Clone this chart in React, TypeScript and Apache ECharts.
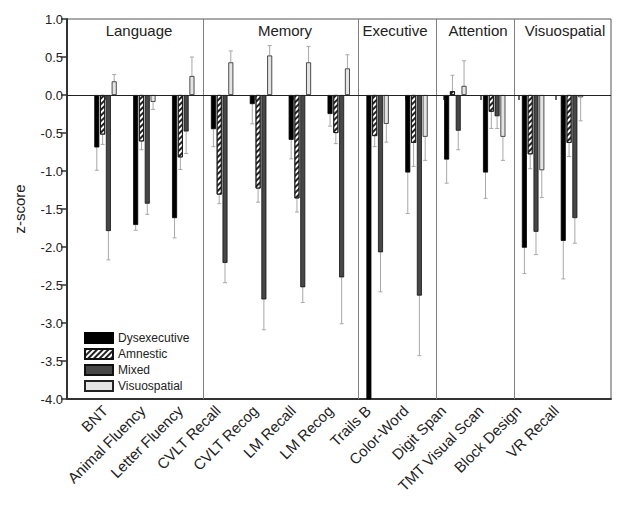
import React, { useEffect, useRef } from "react";
import * as echarts from "echarts";

const categories = [
  "BNT", "Animal Fluency", "Letter Fluency", "CVLT Recall", "CVLT Recog", "LM Recall",
  "LM Recog", "Trails B", "Color-Word", "Digit Span", "TMT Visual Scan", "Block Design", "VR Recall",
];
const domains = ["Language", "Memory", "Executive", "Attention", "Visuospatial"];
const domainStartIndex = [3, 7, 9, 11];

const dysexecutive = [-0.69, -1.71, -1.62, -0.45, -0.12, -0.59, -0.25, -4.4, -1.02, -0.85, -1.02, -2.01, -1.92];
const dysexecutiveSE = [0.30, 0.07, 0.26, 0.23, 0.26, 0.25, 0.16, 0, 0.54, 0.31, 0.34, 0.34, 0.50];
const amnestic = [-0.52, -0.61, -0.82, -1.31, -1.23, -1.36, -0.50, -0.54, -0.63, 0.05, -0.22, -0.78, -0.63];
const amnesticSE = [0.13, 0.11, 0.16, 0.12, 0.18, 0.18, 0.14, 0.14, 0.31, 0.21, 0.22, 0.19, 0.18];
const mixed = [-1.79, -1.43, -0.48, -2.21, -2.69, -2.53, -2.40, -2.07, -2.64, -0.47, -0.28, -1.80, -1.62];
const mixedSE = [0.38, 0.14, 0.29, 0.26, 0.40, 0.20, 0.61, 0.52, 0.79, 0.25, 0.16, 0.30, 0.33];
const visuospatial = [0.18, -0.09, 0.25, 0.43, 0.52, 0.43, 0.35, -0.38, -0.55, 0.12, -0.55, -0.99, -0.03];
const visuospatialSE = [0.09, 0.10, 0.25, 0.15, 0.13, 0.21, 0.18, 0.24, 0.31, 0.33, 0.31, 0.36, 0.31];

const yMin = -4;
const yMax = 1;
const yInterval = 0.5;

const FONT = "Liberation Sans, Arial, sans-serif";

const groups = [
  { name: "Dysexecutive", values: dysexecutive, se: dysexecutiveSE },
  { name: "Amnestic", values: amnestic, se: amnesticSE },
  { name: "Mixed", values: mixed, se: mixedSE },
  { name: "Visuospatial", values: visuospatial, se: visuospatialSE },
];

const BAR_W = 5;
const BAR_GAP = 0.8;

function barStyle(idx: number): any {
  if (idx === 0) return { color: "#000000", borderColor: "#000000", borderWidth: 0.8 };
  if (idx === 1)
    return {
      color: "#ffffff",
      borderColor: "#111111",
      borderWidth: 0.8,
      decal: {
        symbol: "rect",
        color: "#222222",
        backgroundColor: "#ffffff",
        dashArrayX: [1, 0],
        dashArrayY: [1.5, 2],
        rotation: -Math.PI / 4,
        symbolSize: 1,
      },
    };
  if (idx === 2) return { color: "#474747", borderColor: "#111111", borderWidth: 0.8 };
  return { color: "#e4e4e4", borderColor: "#222222", borderWidth: 0.8 };
}

export default function App() {
  const ref = useRef<HTMLDivElement>(null);
  useEffect(() => {
    document.body.style.margin = "0";
    if (!ref.current) return;
    const chart = echarts.init(ref.current, null, { renderer: "svg" });

    const total = groups.length * BAR_W + (groups.length - 1) * BAR_GAP;
    const barSeries = groups.map((g, k) => ({
      type: "bar",
      name: g.name,
      xAxisIndex: 1,
      yAxisIndex: 1,
      data: g.values,
      barWidth: BAR_W,
      barGap: `${(BAR_GAP / BAR_W) * 100}%`,
      itemStyle: barStyle(k),
      clip: true,
      z: 3,
    }));

    const errSeries = groups.map((g, k) => {
      const offset = -total / 2 + BAR_W / 2 + k * (BAR_W + BAR_GAP);
      return {
        type: "custom",
        xAxisIndex: 1,
        yAxisIndex: 1,
        silent: true,
        z: 2,
        data: g.values.map((v, i) => [i, v, g.se[i]]),
        renderItem: (params: any, api: any) => {
          const i = api.value(0);
          const v = api.value(1);
          const s = api.value(2);
          if (!s || isNaN(s)) return null;
          const end = v >= 0 ? v + s : v - s;
          const p0 = api.coord([i, v]);
          const p1 = api.coord([i, end]);
          const x = p0[0] + offset;
          const st = { stroke: "#a8a8a8", lineWidth: 1 };
          return {
            type: "group",
            children: [
              { type: "line", shape: { x1: x, y1: p0[1], x2: x, y2: p1[1] }, style: st },
              { type: "line", shape: { x1: x - 2, y1: p1[1], x2: x + 2, y2: p1[1] }, style: st },
            ],
          };
        },
      };
    });

    const dividerSeries = {
      type: "custom",
      xAxisIndex: 1,
      yAxisIndex: 1,
      silent: true,
      z: 1,
      data: domainStartIndex.map((i) => [i, 0]),
      renderItem: (params: any, api: any) => {
        const i = api.value(0);
        const c = api.coord([i, 0]);
        const band = api.size([1, 0])[0];
        const x = Math.round(c[0] - band / 2) + 0.5;
        const cs = params.coordSys;
        return {
          type: "line",
          shape: { x1: x, y1: cs.y, x2: x, y2: cs.y + cs.height },
          style: { stroke: "#808080", lineWidth: 1 },
        };
      },
    };

    const titleX = [139, 285, 395, 478, 565];

    const option: any = {
      animation: false,
      backgroundColor: "#ffffff",
      textStyle: { fontFamily: FONT },
      grid: [
        { left: 67, right: 13, top: 19, bottom: 108, show: true, borderColor: "#555555", borderWidth: 1, backgroundColor: "transparent" },
        { left: 86.06, right: 32.6, top: 19, bottom: 108 },
        { left: 86.2, right: 49.2, top: 19, bottom: 108 },
      ],
      legend: {
        data: groups.map((g) => g.name),
        orient: "vertical",
        left: 84,
        top: 332,
        padding: 0,
        itemWidth: 28,
        itemHeight: 10,
        itemGap: 4,
        icon: "rect",
        textStyle: { fontSize: 12, lineHeight: 12, color: "#222", fontFamily: FONT },
      },
      xAxis: [
        {
          type: "value", gridIndex: 0, min: 0, max: 1,
          axisLine: { show: true, onZero: false, lineStyle: { color: "#333", width: 2 } },
          axisTick: { show: false }, axisLabel: { show: false }, splitLine: { show: false },
        },
        {
          type: "category", gridIndex: 1, data: categories,
          axisLine: { show: false }, axisTick: { show: false }, axisLabel: { show: false },
          splitLine: { show: false },
        },
        {
          type: "category", gridIndex: 2, data: categories,
          axisLine: { show: false },
          axisTick: { show: true, alignWithLabel: true, length: 5, lineStyle: { color: "#333", width: 1.5 } },
          axisLabel: { rotate: 45, fontSize: 15, color: "#222", margin: 9, interval: 0, fontFamily: FONT },
          splitLine: { show: false },
        },
      ],
      yAxis: [
        {
          type: "value", gridIndex: 0, min: yMin, max: yMax, interval: yInterval,
          name: "z-score", nameLocation: "middle", nameGap: 40,
          nameTextStyle: { fontSize: 15, color: "#222", fontFamily: FONT },
          axisLine: { show: true, lineStyle: { color: "#333", width: 2 } },
          axisTick: { show: true, length: 6, lineStyle: { color: "#333", width: 1.5 } },
          axisLabel: { fontSize: 13, color: "#222", margin: 4, formatter: (v: number) => v.toFixed(1), fontFamily: FONT },
          splitLine: { show: false },
        },
        { type: "value", gridIndex: 1, min: yMin, max: yMax, interval: yInterval, show: false },
        { type: "value", gridIndex: 2, min: yMin, max: yMax, interval: yInterval, show: false },
      ],
      graphic: domains.map((d, i) => ({
        type: "text",
        x: titleX[i],
        y: 30,
        z: 10,
        style: { text: d, font: `15px ${FONT}`, fill: "#222", align: "center", verticalAlign: "middle" },
      })),
      series: [
        {
          type: "scatter",
          xAxisIndex: 0,
          yAxisIndex: 0,
          data: [],
          silent: true,
          markLine: {
            silent: true,
            symbol: "none",
            label: { show: false },
            lineStyle: { color: "#222", width: 1, type: "solid" },
            data: [{ yAxis: 0 }],
          },
        },
        dividerSeries,
        ...errSeries,
        ...barSeries,
      ],
    };
    chart.setOption(option);
    return () => chart.dispose();
  }, []);
  return <div ref={ref} style={{ width: 624, height: 507 }} />;
}
